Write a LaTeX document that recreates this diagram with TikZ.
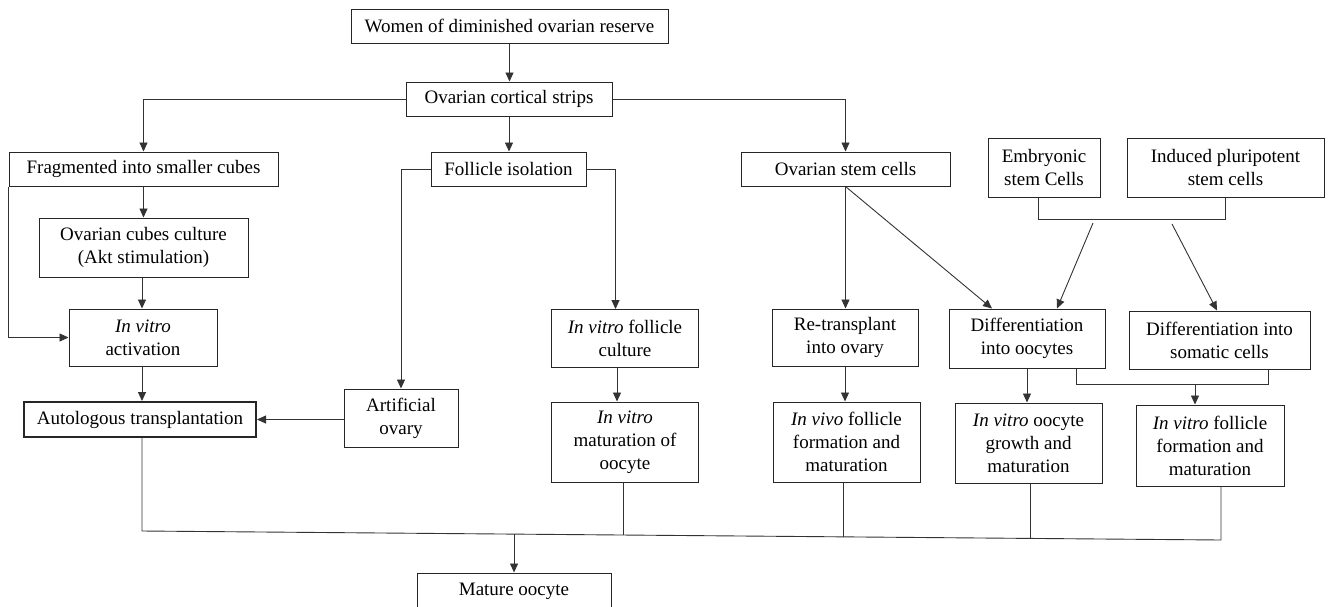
\documentclass[tikz,border=0pt]{standalone}
\usepackage{fontspec}
\setmainfont{Liberation Serif}
\newfontfamily\tnr{Liberation Serif}
\usetikzlibrary{arrows.meta,calc}
\begin{document}
\begin{tikzpicture}[x=1pt,y=-1pt,
  box/.style={draw=black!85, line width=1pt, align=center, inner sep=0pt,
    font=\tnr\fontsize{19}{23}\selectfont},
  arr/.style={draw=black!80, line width=0.9pt, -{Triangle[length=9pt,width=8pt]}},
  ln/.style={draw=black!80, line width=0.9pt}]
\useasboundingbox (0,0) rectangle (1328,606);
\fill[white] (0,0) rectangle (1328,606);

% nodes
\node[box, minimum width=317pt, minimum height=34pt] (women) at (509.5,26) {Women of diminished ovarian reserve};
\node[box, minimum width=206pt, minimum height=34pt] (strips) at (509,99) {Ovarian cortical strips};
\node[box, minimum width=269pt, minimum height=34pt] (frag) at (143.5,169) {Fragmented into smaller cubes};
\node[box, minimum width=155pt, minimum height=34pt] (foll) at (508.5,169) {Follicle isolation};
\node[box, minimum width=209pt, minimum height=34pt] (osc) at (845.5,169) {Ovarian stem cells};
\node[box, minimum width=112pt, minimum height=59pt] (esc) at (1044,167.5) {Embryonic\\stem Cells};
\node[box, minimum width=197pt, minimum height=59pt] (ipsc) at (1225.5,167.5) {Induced pluripotent\\stem cells};
\node[box, minimum width=209pt, minimum height=59pt] (cubes) at (143.5,247.5) {Ovarian cubes culture\\(Akt stimulation)};
\node[box, minimum width=148pt, minimum height=57pt] (iva) at (143,337.5) {\textit{In vitro}\\activation};
\node[box, minimum width=147pt, minimum height=58pt] (ifc) at (625,338.5) {\textit{In vitro} follicle\\culture};
\node[box, minimum width=146pt, minimum height=57pt] (retr) at (845,337.5) {Re-transplant\\into ovary};
\node[box, minimum width=156pt, minimum height=59pt] (dio) at (1027,338.5) {Differentiation\\into oocytes};
\node[box, minimum width=181pt, minimum height=58pt] (dis) at (1219.5,340) {Differentiation into\\somatic cells};
\node[box, line width=2pt, minimum width=232pt, minimum height=35pt] (auto) at (140,419.5) {Autologous transplantation};
\node[box, minimum width=114pt, minimum height=58pt] (art) at (401,418) {Artificial\\ovary};
\node[box, minimum width=147pt, minimum height=80pt] (ivm) at (625,442) {\textit{In vitro}\\maturation of\\oocyte};
\node[box, minimum width=147pt, minimum height=80pt] (ivv) at (846.5,442) {\textit{In vivo} follicle\\formation and\\maturation};
\node[box, minimum width=147pt, minimum height=80pt] (ivo) at (1028.5,443) {\textit{In vitro} oocyte\\growth and\\maturation};
\node[box, minimum width=148pt, minimum height=81pt] (ivf) at (1210,445.5) {\textit{In vitro} follicle\\formation and\\maturation};
\node[box, minimum width=194pt, minimum height=36pt] (mat) at (514,591) {Mature oocyte};

% connectors, upper part
\draw[arr] (women.south) -- (women.south |- strips.north);
\draw[arr] (strips.west) -| (frag.north);
\draw[arr] (strips.south) -- (strips.south |- foll.north);
\draw[arr] (strips.east) -| (osc.north);
\draw[arr] (frag.south) -- (frag.south |- cubes.north);
\draw[arr] ([xshift=-1.5pt]cubes.south) -- ([xshift=-1.5pt]cubes.south |- iva.north);
\draw[arr] (frag.south west) |- (iva.west);
\draw[arr] ([xshift=-1pt]iva.south) -- ([xshift=-1pt]iva.south |- auto.north);
\draw[arr] (foll.west) -| (art.north);
\draw[arr] (foll.east) -| ([xshift=-9.5pt]ifc.north);
\draw[arr] ([xshift=-8pt]ifc.south) -- ([xshift=-8pt]ifc.south |- ivm.north);
\draw[arr] (art.west |- auto.east) -- (auto.east);

% stem-cell part
\draw[arr] (osc.south) -- (osc.south |- retr.north);
\draw[arr] (osc.south) -- ([xshift=-35pt]dio.north);
\draw[ln] ([xshift=-6pt]esc.south) -- ++(0,22) -| (ipsc.south);
\coordinate (d1) at (1093,223);
\coordinate (d2) at (1172,224);
\draw[arr] (d1) -- ([xshift=30pt]dio.north);
\draw[arr] (d2) -- ([xshift=-2.5pt]dis.north);
\draw[arr] (retr.south) -- (retr.south |- ivv.north);
\draw[arr] (dio.south) -- (dio.south |- ivo.north);
\draw[ln] ([xshift=49pt]dio.south) -- ++(0,16) -| ([xshift=49pt]dis.south);
\coordinate (bj) at (1195,384);
\draw[arr] (bj) -- (bj |- ivf.north);

% bottom bus
\coordinate (bl) at (142,531);
\coordinate (br) at (1221,540);
\coordinate (pivm) at ($(bl)!0.4458!(br)$);
\coordinate (pivv) at ($(bl)!0.6497!(br)$);
\coordinate (pivo) at ($(bl)!0.8230!(br)$);
\coordinate (pmat) at ($(bl)!0.3448!(br)$);
\draw[ln] (bl |- auto.south) -- (bl) -- (br) -- (br |- ivf.south);
\draw[ln] (pivm |- ivm.south) -- (pivm);
\draw[ln] (pivv |- ivv.south) -- (pivv);
\draw[ln] (pivo |- ivo.south) -- (pivo);
\draw[arr] (pmat) -- (pmat |- mat.north);
\end{tikzpicture}
\end{document}
